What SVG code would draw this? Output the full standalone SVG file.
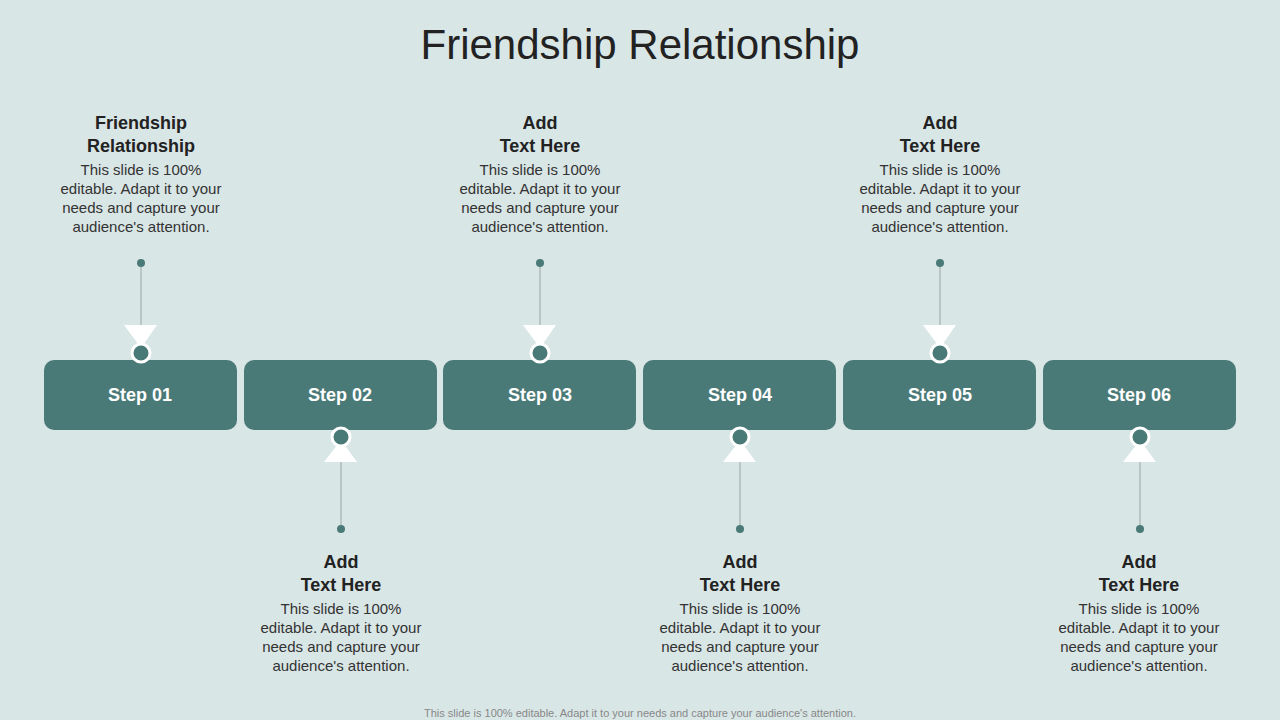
<svg xmlns="http://www.w3.org/2000/svg" width="1280" height="720" viewBox="0 0 1280 720">
<style>
.box{fill:#4a7a77}
.st{font-family:"Liberation Sans",Arial,sans-serif;font-weight:bold;font-size:18px;fill:#fff;text-anchor:middle}
.h{font-family:"Liberation Sans",Arial,sans-serif;font-weight:bold;font-size:18px;fill:#222;text-anchor:middle}
.b{font-family:"Liberation Sans",Arial,sans-serif;font-size:15px;fill:#333;text-anchor:middle}
.ln{stroke:#9aa5a4;stroke-width:1}
.dot{fill:#4a7a77}
.tri{fill:#fff}
.ring{fill:#4a7a77;stroke:#fff;stroke-width:3}
</style>
<rect width="1280" height="720" fill="#d9e6e6"/>
<text x="640" y="59" font-family="Liberation Sans,Arial,sans-serif" font-size="42" fill="#222" text-anchor="middle">Friendship Relationship</text>
<g id="connectors">
<line class="ln" x1="141" y1="263" x2="141" y2="330"/>
<line class="ln" x1="540" y1="263" x2="540" y2="330"/>
<line class="ln" x1="940" y1="263" x2="940" y2="330"/>
<line class="ln" x1="341" y1="460" x2="341" y2="529"/>
<line class="ln" x1="740" y1="460" x2="740" y2="529"/>
<line class="ln" x1="1140" y1="460" x2="1140" y2="529"/>
<circle class="dot" cx="141" cy="263" r="4"/><circle class="dot" cx="540" cy="263" r="4"/><circle class="dot" cx="940" cy="263" r="4"/>
<circle class="dot" cx="341" cy="529" r="4"/><circle class="dot" cx="740" cy="529" r="4"/><circle class="dot" cx="1140" cy="529" r="4"/>
</g>
<g id="step1"><rect class="box" x="44" y="360" width="193" height="70" rx="10"/><text class="st" x="140" y="401">Step 01</text>
<polygon class="tri" points="124,325 157,325 141,348"/><circle class="ring" cx="141" cy="353" r="9"/></g>
<g id="step2"><rect class="box" x="244" y="360" width="193" height="70" rx="10"/><text class="st" x="340" y="401">Step 02</text>
<polygon class="tri" points="324,462 357,462 341,440"/><circle class="ring" cx="341" cy="437" r="9"/></g>
<g id="step3"><rect class="box" x="443" y="360" width="193" height="70" rx="10"/><text class="st" x="540" y="401">Step 03</text>
<polygon class="tri" points="523,325 556,325 540,348"/><circle class="ring" cx="540" cy="353" r="9"/></g>
<g id="step4"><rect class="box" x="643" y="360" width="193" height="70" rx="10"/><text class="st" x="740" y="401">Step 04</text>
<polygon class="tri" points="723,462 756,462 740,440"/><circle class="ring" cx="740" cy="437" r="9"/></g>
<g id="step5"><rect class="box" x="843" y="360" width="193" height="70" rx="10"/><text class="st" x="940" y="401">Step 05</text>
<polygon class="tri" points="923,325 956,325 940,348"/><circle class="ring" cx="940" cy="353" r="9"/></g>
<g id="step6"><rect class="box" x="1043" y="360" width="193" height="70" rx="10"/><text class="st" x="1139" y="401">Step 06</text>
<polygon class="tri" points="1123,462 1156,462 1140,440"/><circle class="ring" cx="1140" cy="437" r="9"/></g>
<g id="text1"><text class="h" x="141" y="129">Friendship</text><text class="h" x="141" y="152">Relationship</text>
<text class="b" x="141" y="175">This slide is 100%</text><text class="b" x="141" y="194">editable. Adapt it to your</text><text class="b" x="141" y="213">needs and capture your</text><text class="b" x="141" y="232">audience's attention.</text></g>
<g id="text3"><text class="h" x="540" y="129">Add</text><text class="h" x="540" y="152">Text Here</text>
<text class="b" x="540" y="175">This slide is 100%</text><text class="b" x="540" y="194">editable. Adapt it to your</text><text class="b" x="540" y="213">needs and capture your</text><text class="b" x="540" y="232">audience's attention.</text></g>
<g id="text5"><text class="h" x="940" y="129">Add</text><text class="h" x="940" y="152">Text Here</text>
<text class="b" x="940" y="175">This slide is 100%</text><text class="b" x="940" y="194">editable. Adapt it to your</text><text class="b" x="940" y="213">needs and capture your</text><text class="b" x="940" y="232">audience's attention.</text></g>
<g id="text2"><text class="h" x="341" y="568">Add</text><text class="h" x="341" y="591">Text Here</text>
<text class="b" x="341" y="614">This slide is 100%</text><text class="b" x="341" y="633">editable. Adapt it to your</text><text class="b" x="341" y="652">needs and capture your</text><text class="b" x="341" y="671">audience's attention.</text></g>
<g id="text4"><text class="h" x="740" y="568">Add</text><text class="h" x="740" y="591">Text Here</text>
<text class="b" x="740" y="614">This slide is 100%</text><text class="b" x="740" y="633">editable. Adapt it to your</text><text class="b" x="740" y="652">needs and capture your</text><text class="b" x="740" y="671">audience's attention.</text></g>
<g id="text6"><text class="h" x="1139" y="568">Add</text><text class="h" x="1139" y="591">Text Here</text>
<text class="b" x="1139" y="614">This slide is 100%</text><text class="b" x="1139" y="633">editable. Adapt it to your</text><text class="b" x="1139" y="652">needs and capture your</text><text class="b" x="1139" y="671">audience's attention.</text></g>
<text x="640" y="717" font-family="Liberation Sans,Arial,sans-serif" font-size="11" fill="#888" text-anchor="middle">This slide is 100% editable. Adapt it to your needs and capture your audience's attention.</text>
</svg>
